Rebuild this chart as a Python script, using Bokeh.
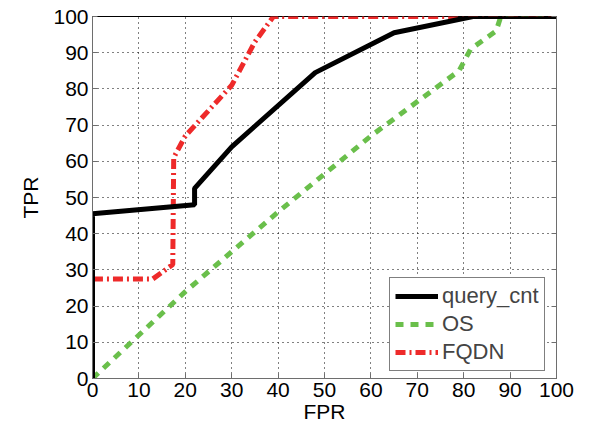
from bokeh.plotting import figure
from bokeh.models import Range1d, LinearAxis, Legend, LegendItem, Label, FixedTicker
from bokeh.embed import file_html
from bokeh.resources import INLINE

query_fpr = [0, 0, 22, 22, 30, 48, 65, 82, 100]
query_tpr = [0, 45.5, 48, 52.5, 64, 84.5, 95.5, 100, 100]
os_fpr = [0, 20, 40, 60, 79, 81.5, 87, 88, 100]
os_tpr = [0, 24, 46, 67, 85, 91, 96, 100, 100]
fqdn_fpr = [0, 0, 13, 17.3, 17.5, 20, 30, 35, 39, 100]
fqdn_tpr = [0, 27.5, 27.5, 31.5, 61, 67, 81, 93, 100, 100]
ticks = [0, 10, 20, 30, 40, 50, 60, 70, 80, 90, 100]

FONT = "Liberation Sans"
FS = "21px"
AXC = "#6e6e6e"

p = figure(width=589, height=431, output_backend="svg", toolbar_location=None,
           x_range=Range1d(0, 100), y_range=Range1d(0, 100),
           min_border_left=92, min_border_right=33, min_border_top=16, min_border_bottom=53,
           x_axis_label="FPR", y_axis_label="TPR")
p.outline_line_color = "black"
p.background_fill_color = "white"
p.border_fill_color = "white"

for ax in (p.xaxis[0], p.yaxis[0]):
    ax.ticker = FixedTicker(ticks=ticks)
    ax.major_label_text_font = FONT
    ax.major_label_text_font_size = FS
    ax.major_label_text_color = "black"
    ax.axis_label_text_font = FONT
    ax.axis_label_text_font_size = FS
    ax.axis_label_text_font_style = "normal"
    ax.axis_label_text_color = "black"
    ax.major_tick_in = 5
    ax.major_tick_out = 0
    ax.minor_tick_line_color = None
    ax.axis_line_color = AXC
    ax.major_tick_line_color = AXC
p.xaxis[0].major_label_standoff = 4
p.xaxis[0].axis_label_standoff = 0
p.yaxis[0].major_label_standoff = 4
p.yaxis[0].axis_label_standoff = 8

r_ax = LinearAxis(ticker=FixedTicker(ticks=ticks),
                  major_label_overrides={t: "" for t in ticks},
                  major_tick_in=5, major_tick_out=0, minor_tick_line_color=None,
                  axis_line_color=AXC, major_tick_line_color=AXC)
p.add_layout(r_ax, "right")

for g in (p.xgrid[0], p.ygrid[0]):
    g.ticker = FixedTicker(ticks=ticks)
    g.grid_line_color = "black"
    g.grid_line_dash = "1 4"
    g.grid_line_width = 1

r_os = p.line(os_fpr, os_tpr, line_color="#6abf4b", line_width=5, line_dash="8 7")
r_fq = p.line(fqdn_fpr, fqdn_tpr, line_color="#ee2a2a", line_width=5, line_dash="10 4 2 4")
r_q = p.line(query_fpr, query_tpr, line_color="black", line_width=5)

legend = Legend(items=[LegendItem(label="query_cnt", renderers=[r_q]),
                       LegendItem(label="OS", renderers=[r_os]),
                       LegendItem(label="FQDN", renderers=[r_fq])],
                location=(297, 7), label_text_font=FONT, label_text_font_size="22px",
                border_line_color="black", border_line_width=1, padding=5, spacing=2,
                glyph_width=43, glyph_height=26, label_height=26, label_standoff=4,
                background_fill_alpha=1, margin=0)
p.add_layout(legend)

p.add_layout(Label(x=-19.6, y=-5.2, text="0", text_align="center", text_baseline="middle",
                   text_font=FONT, text_font_size=FS, text_color="black"))

open("out.html", "w").write(file_html(p, INLINE))
